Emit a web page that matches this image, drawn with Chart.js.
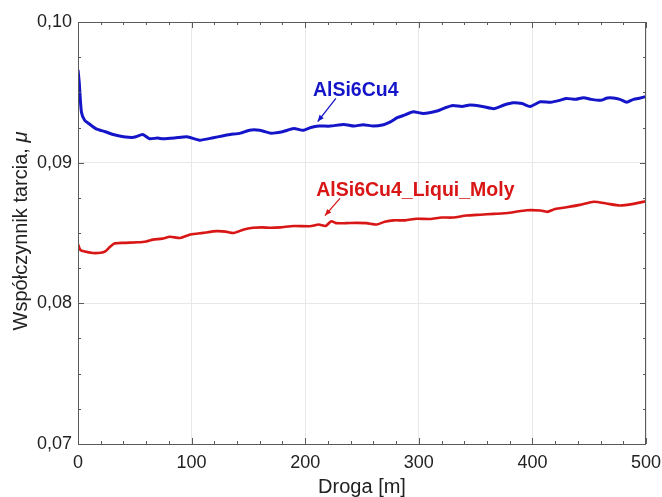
<!DOCTYPE html>
<html>
<head>
<meta charset="utf-8">
<script src="https://cdn.jsdelivr.net/npm/chart.js@4/dist/chart.umd.min.js"></script>
<style>
  html, body { margin: 0; padding: 0; background: #fff; }
  #wrap { width: 662px; height: 497px; }
</style>
</head>
<body>
<div id="wrap"><canvas id="grafico" width="662" height="497"></canvas></div>
<script>
// dane: droga [m] i współczynnik tarcia
const drogaAlSi = [0, 1, 3, 6, 10, 16, 24, 31, 40, 49, 57, 63, 70, 75, 85, 96, 107, 119, 127, 134,
  143, 151, 160, 169, 172, 180, 190, 198, 205, 212, 222, 234, 243, 251, 260, 269, 275, 281, 288, 295,
  304, 316, 323, 330, 338, 345, 356, 366, 375, 383, 391, 398, 407, 416, 424, 430, 438, 445, 452, 460,
  466, 471, 477, 483, 489, 495, 500];
const tarcieAlSi = [0.0966, 0.0958, 0.0936, 0.0930, 0.09275, 0.0924, 0.0922, 0.0920, 0.09185, 0.0918,
  0.0920, 0.0917, 0.09175, 0.0917, 0.09175, 0.09184, 0.0916, 0.09177, 0.0919, 0.0920,
  0.0921, 0.09231, 0.0923, 0.0921, 0.0921, 0.0922, 0.09243, 0.0923, 0.0925, 0.0926,
  0.0926, 0.09272, 0.0926, 0.0927, 0.0926, 0.0927, 0.0929, 0.0932, 0.0934, 0.09362,
  0.0935, 0.09367, 0.0939, 0.09407, 0.0940, 0.0941, 0.0940, 0.09384, 0.0941, 0.09426,
  0.0942, 0.0940, 0.09433, 0.0943, 0.09443, 0.09457, 0.0945, 0.09462, 0.0945, 0.09443,
  0.0946, 0.0946, 0.0945, 0.0943, 0.0945, 0.0946, 0.0947];

const drogaLiqui = [0, 2, 5, 13, 20, 24, 28, 32, 40, 52, 60, 66, 74, 81, 90, 99, 110, 122, 130, 137,
  146, 154, 162, 170, 178, 190, 204, 212, 218, 223, 227, 236, 245, 254, 263, 270, 278, 288, 298, 310,
  320, 330, 342, 354, 366, 375, 383, 395, 407, 413, 420, 430, 442, 454, 465, 477, 489, 500];
const tarcieLiqui = [0.0842, 0.0838, 0.0837, 0.08358, 0.0836, 0.0837, 0.0840, 0.08425, 0.0843, 0.08434,
  0.0844, 0.08453, 0.0846, 0.08473, 0.08465, 0.0849, 0.08501, 0.08513, 0.0851, 0.0850,
  0.08525, 0.08537, 0.0854, 0.08537, 0.0854, 0.0855, 0.08548, 0.0856, 0.0855, 0.08584,
  0.0857, 0.0857, 0.08572, 0.0857, 0.0856, 0.0858, 0.0859, 0.0859, 0.08601, 0.0860,
  0.0861, 0.0861, 0.08624, 0.0863, 0.08636, 0.0864, 0.08648, 0.08662, 0.0866, 0.0865,
  0.0867, 0.08683, 0.0870, 0.08722, 0.0871, 0.08695, 0.08707, 0.08726];

const etykietySerii = ['AlSi6Cu4', 'AlSi6Cu4_Liqui_Moly'];
const kolory = ['#1414c8', '#d91616'];

const FONT = "Arial, 'Liberation Sans', sans-serif";

function punkty(xs, ys) {
  return xs.map((x, i) => ({ x: x, y: ys[i] }));
}

// rama, krótkie kreski podziałki do środka, tytuł osi Y (μ kursywą) i opisy serii
const ramaPlugin = {
  id: 'rama',
  afterDraw(chart) {
    const ctx = chart.ctx;
    const a = chart.chartArea;
    const sx = chart.scales.x, sy = chart.scales.y;
    ctx.save();
    ctx.strokeStyle = '#5a5a5a';
    ctx.lineWidth = 1;
    ctx.strokeRect(a.left + 0.5, a.top + 0.5, a.right - a.left - 1, a.bottom - a.top);

    ctx.beginPath();
    for (let v = 0; v <= 500; v += 20) {
      const px = Math.round(sx.getPixelForValue(v)) + 0.5;
      const len = v % 100 === 0 ? 6 : 3;
      ctx.moveTo(px, a.bottom); ctx.lineTo(px, a.bottom - len);
      ctx.moveTo(px, a.top); ctx.lineTo(px, a.top + len);
    }
    for (let k = 0; k <= 12; k++) {
      const v = 0.07 + k * 0.0025;
      const py = Math.round(sy.getPixelForValue(v)) + 0.5;
      const len = k % 4 === 0 ? 6 : 3;
      ctx.moveTo(a.left, py); ctx.lineTo(a.left + len, py);
      ctx.moveTo(a.right, py); ctx.lineTo(a.right - len, py);
    }
    ctx.stroke();

    // tytuł osi Y
    const czesc1 = 'Współczynnik tarcia, ';
    const czesc2 = 'μ';
    ctx.translate(21, (a.top + a.bottom) / 2 - 2);
    ctx.rotate(-Math.PI / 2);
    ctx.fillStyle = '#222';
    ctx.textBaseline = 'middle';
    ctx.textAlign = 'left';
    ctx.font = '20px ' + FONT;
    const w1 = ctx.measureText(czesc1).width;
    ctx.font = 'italic 20px ' + FONT;
    const w2 = ctx.measureText(czesc2).width;
    const start = -(w1 + w2) / 2;
    ctx.font = '20px ' + FONT;
    ctx.fillText(czesc1, start, 0);
    ctx.font = 'italic 20px ' + FONT;
    ctx.fillText(czesc2, start + w1, 0);
    ctx.setTransform(1, 0, 0, 1, 0, 0);

    // opisy serii
    const opisy = [
      { tekst: etykietySerii[0], kolor: kolory[0], x: 244.5, y: 0.09514, od: [227, 0.09457], do: [211, 0.09292] },
      { tekst: etykietySerii[1], kolor: kolory[1], x: 297, y: 0.08802, od: [230.6, 0.08746], do: [217.4, 0.08624] }
    ];
    opisy.forEach(o => {
      ctx.fillStyle = o.kolor;
      ctx.strokeStyle = o.kolor;
      ctx.font = 'bold 19.5px ' + FONT;
      ctx.textAlign = 'center';
      ctx.textBaseline = 'middle';
      ctx.fillText(o.tekst, sx.getPixelForValue(o.x), sy.getPixelForValue(o.y));
      const x1 = sx.getPixelForValue(o.od[0]), y1 = sy.getPixelForValue(o.od[1]);
      const x2 = sx.getPixelForValue(o.do[0]), y2 = sy.getPixelForValue(o.do[1]);
      ctx.lineWidth = 1.3;
      ctx.beginPath();
      ctx.moveTo(x1, y1); ctx.lineTo(x2, y2);
      ctx.stroke();
      const kat = Math.atan2(y2 - y1, x2 - x1);
      const d = 7;
      ctx.beginPath();
      ctx.moveTo(x2, y2);
      ctx.lineTo(x2 - d * Math.cos(kat - 0.4), y2 - d * Math.sin(kat - 0.4));
      ctx.lineTo(x2 - d * Math.cos(kat + 0.4), y2 - d * Math.sin(kat + 0.4));
      ctx.closePath();
      ctx.fill();
    });
    ctx.restore();
  }
};

new Chart(document.getElementById('grafico'), {
  type: 'line',
  data: {
    datasets: [
      {
        label: etykietySerii[0],
        data: punkty(drogaAlSi, tarcieAlSi),
        borderColor: kolory[0],
        borderWidth: 3,
        pointRadius: 0,
        tension: 0.2,
        fill: false
      },
      {
        label: etykietySerii[1],
        data: punkty(drogaLiqui, tarcieLiqui),
        borderColor: kolory[1],
        borderWidth: 2.6,
        pointRadius: 0,
        tension: 0.2,
        fill: false
      }
    ]
  },
  options: {
    responsive: false,
    animation: false,
    layout: { padding: { left: 0, right: 0, top: 22, bottom: 0 } },
    plugins: { legend: { display: false }, tooltip: { enabled: false } },
    scales: {
      x: {
        type: 'linear',
        min: 0,
        max: 500,
        afterFit: s => { s.height = 53; s.paddingRight = 16; },
        ticks: {
          stepSize: 100,
          padding: 8,
          color: '#222',
          font: { family: FONT, size: 18 }
        },
        grid: { color: '#e8e8e8', drawTicks: false },
        border: { display: false },
        title: {
          display: true,
          text: 'Droga [m]',
          color: '#222',
          font: { family: FONT, size: 20, lineHeight: 1 },
          padding: { top: 0, bottom: 0 }
        }
      },
      y: {
        min: 0.07,
        max: 0.10,
        afterFit: s => { s.width = 78; },
        ticks: {
          stepSize: 0.01,
          padding: 6,
          color: '#222',
          font: { family: FONT, size: 18 },
          callback: v => v.toFixed(2).replace('.', ',')
        },
        grid: { color: '#e8e8e8', drawTicks: false },
        border: { display: false }
      }
    }
  },
  plugins: [ramaPlugin]
});
</script>
</body>
</html>
